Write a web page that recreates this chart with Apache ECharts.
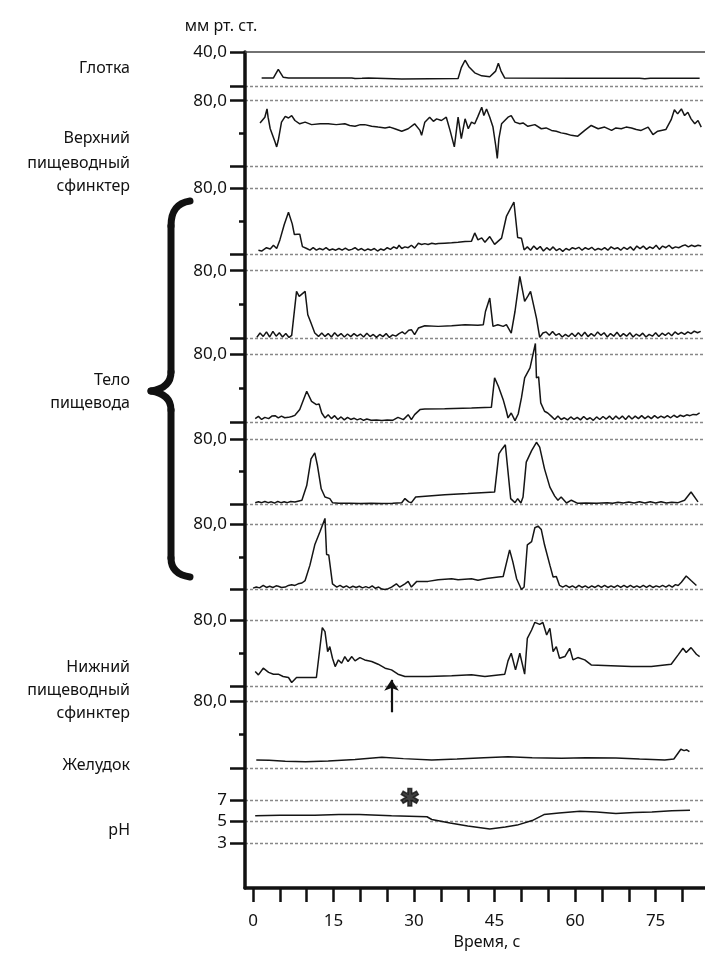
<!DOCTYPE html>
<html>
<head>
<meta charset="utf-8">
<script src="https://cdn.jsdelivr.net/npm/echarts@6/dist/echarts.min.js"></script>
<style>
html, body { margin: 0; padding: 0; background: #fff; }
#chart { width: 705px; height: 955px; }
</style>
</head>
<body>
<div id="chart"></div>
<script>
// оси
var timeTicks = [0, 5, 10, 15, 20, 25, 30, 35, 40, 45, 50, 55, 60, 65, 70, 75, 80];
var timeLabels = [0, 15, 30, 45, 60, 75];
var phTicks = [3, 5, 7];

// каналы: [время, с ; давление, мм рт. ст.]
var pharynx = [[1.6,10.1],[3.8,10.1],[4.7,20],[5.6,11],[6.6,10.1],[18.4,10.1],[19.0,9.5],[20.3,9.7],[21.5,10.1],[27.7,9],[38.2,9.5],[38.8,22],[39.5,30.5],[40.2,23],[41.3,16],[42.6,12.5],[44.1,11.5],[45.2,18],[45.7,27],[46.2,18],[46.9,10],[60,9.8],[72,9.6],[73,9.2],[74,9.6],[83.2,9.6]];

var upperSphincter = [[1.3,53],[2.2,60],[2.6,70],[2.8,60],[3.2,46],[4.1,30],[4.4,24],[4.7,32],[5.3,54],[6.0,61],[6.6,59],[7.2,62],[7.8,56],[8.7,52],[9.7,54],[10.9,51],[12.5,52],[14.0,52],[15.5,51],[17.1,52],[18.0,50],[19.0,49],[20.0,51],[20.8,51],[22.1,49],[23.3,48],[24.6,47],[25.5,48],[26.4,46],[27.7,43],[28.9,46],[30.1,52],[31.1,44],[31.4,38],[32.0,54],[32.9,60],[33.6,55],[34.2,58],[35.1,56],[36.0,60],[36.7,44],[37.5,24],[38.2,60],[38.8,34],[39.5,58],[40.1,46],[40.7,54],[41.3,52],[41.9,61],[42.6,72],[43.0,62],[43.5,70],[44.1,60],[44.7,48],[45.2,26],[45.5,10],[45.8,34],[46.3,52],[46.9,56],[47.5,60],[48.1,62],[48.8,54],[49.7,52],[50.3,53],[51.2,49],[52.5,51],[53.7,46],[54.6,47],[55.6,44],[56.5,43],[57.4,41],[58.3,40],[59.3,38],[60.5,37],[61.8,44],[63.0,50],[64.3,46],[65.5,48],[66.8,44],[67.6,47],[68.6,46],[69.5,48],[70.5,47],[71.4,45],[72.3,44],[73.6,48],[74.5,39],[75.4,43],[76.9,45],[77.9,57],[78.5,69],[79.1,64],[79.8,70],[80.4,62],[81.0,66],[81.6,58],[82.3,52],[82.9,56],[83.5,48]];

var body1 = [[1.0,5],[1.6,4],[2.5,8],[3.2,6.5],[3.8,11],[4.4,7],[5.0,17.5],[5.8,36],[6.6,51],[7.3,37],[7.7,24],[8.3,24.5],[8.7,24.5],[9.2,9.4],[10.0,7],[10.6,5],[11.2,8],[11.8,5],[12.4,7],[13.0,5.5],[13.6,8],[14.2,5],[14.8,6.5],[15.4,5],[16.0,7],[16.6,5],[17.2,7.5],[17.8,5],[18.4,6],[19.0,8],[19.6,5],[20.2,7],[20.8,4.5],[21.4,6.5],[22.0,5],[22.6,7],[23.2,4],[23.8,6.5],[24.4,5],[25.0,8],[25.6,6],[26.2,9],[26.8,7],[27.2,11],[27.7,7],[28.3,9],[28.9,8],[29.5,11],[30.1,7.5],[30.8,13.5],[31.4,12],[32.0,13],[32.6,12],[33.3,13.5],[34.0,12.5],[34.5,13],[35.7,13.5],[37.0,14],[38.2,14.7],[39.5,15.5],[40.7,16],[41.3,26],[41.9,17.5],[42.6,20],[43.2,14.7],[44.1,21.6],[45.0,12],[46.3,19.6],[47.2,46],[48.6,63.6],[49.3,20.4],[50.0,19.6],[50.5,5.3],[51.1,9],[51.7,5],[52.3,10],[52.9,6],[53.5,9.5],[54.1,4],[54.7,8],[55.3,5],[55.9,9],[56.5,4.5],[57.1,7],[57.7,3.5],[58.3,7],[58.9,5],[59.5,8],[60.1,6.5],[60.7,8.5],[61.3,5],[61.9,8],[62.5,6],[63.1,8.5],[63.7,5],[64.3,7],[64.9,5.5],[65.5,8],[66.1,5],[66.7,9],[67.3,6.5],[67.9,8],[68.5,5],[69.1,8.5],[69.7,6],[70.3,9],[70.9,5],[71.5,10],[72.1,7],[72.7,10],[73.3,6],[73.9,9],[74.5,7],[75.1,11],[75.7,6],[76.3,10],[76.9,8],[77.5,11],[78.1,7],[78.7,9],[79.3,8],[79.9,10],[80.5,11.5],[81.1,9],[81.7,11],[82.3,9.5],[82.9,11],[83.5,10]];

var body2 = [[0.7,1.6],[1.3,6.7],[1.9,2.7],[2.5,8],[3.1,2],[3.7,8.6],[4.3,3],[4.9,7],[5.5,2],[6.1,6],[6.7,1.5],[7.2,4],[8.1,55.7],[8.6,49.8],[8.9,51.7],[9.7,55.7],[10.2,28.2],[10.8,18.4],[11.5,6.7],[12.2,2.7],[12.8,6.7],[13.4,2.7],[14.0,6],[14.6,2],[15.2,7],[15.8,3],[16.4,6],[17.0,2],[17.6,5.5],[18.2,2.5],[18.8,6],[19.4,3],[20.0,5.5],[20.6,2],[21.2,6.5],[21.8,2.5],[22.4,5],[23.0,1.5],[23.6,5],[24.2,2.5],[24.8,6],[25.4,1.5],[26.0,4.5],[26.6,3],[27.2,6],[27.8,8],[28.3,5.5],[29.0,10],[29.5,10.6],[30.1,4.7],[30.8,12.5],[32.0,15.3],[34.5,14.5],[37.0,15.3],[39.5,16.5],[41.9,15.7],[42.9,16.5],[43.3,32],[44.1,47.8],[44.7,14.5],[45.6,16.5],[46.6,14.5],[47.2,16.5],[48.1,6.7],[48.8,32],[49.7,73.3],[50.6,44],[51.2,50],[51.7,55.7],[52.8,24.3],[53.4,1.6],[54.0,6.7],[54.6,8],[55.2,4],[55.8,8.5],[56.4,4],[57.0,6],[57.6,2],[58.2,5],[58.8,2.5],[59.4,6.5],[60.0,2.5],[60.6,7],[61.2,3],[61.8,7.5],[62.4,2.5],[63.0,6],[63.6,3],[64.2,8],[64.8,4],[65.4,7],[66.0,2],[66.6,6],[67.2,3],[67.8,7.5],[68.4,2.5],[69.0,6],[69.6,3],[70.2,7],[70.8,2],[71.4,5.5],[72.0,3],[72.6,6.5],[73.2,2],[73.8,5],[74.4,3],[75.0,7],[75.6,2.5],[76.2,6.5],[76.8,4],[77.4,7],[78.0,3.5],[78.6,8],[79.2,5],[79.8,7.5],[80.4,5],[81.0,8],[81.6,6],[82.2,9],[82.8,7],[83.4,8.6]];

var body3 = [[0.4,4],[1.0,6.7],[1.6,3],[2.2,5.5],[2.9,4],[3.5,7],[4.1,7.5],[4.7,4.8],[5.3,7],[5.9,5],[6.6,5.5],[7.2,6.5],[7.8,7.9],[8.7,14.7],[10.0,36.4],[10.9,24.5],[11.8,20.6],[12.3,21.4],[12.8,10.7],[13.4,4.8],[14.0,8.7],[14.6,4],[15.2,7.5],[15.8,3],[16.4,6],[17.0,2.5],[17.6,5.5],[18.2,3],[18.8,4.5],[19.4,2.5],[20.0,4],[20.6,2],[21.2,3.5],[22.0,2],[23.0,2.5],[24.0,1.8],[25.0,2.5],[26.0,2],[27.0,5.5],[28.0,2.8],[28.9,8.7],[29.5,2.8],[30.1,8.7],[31.1,14.7],[32.0,15.4],[35.7,15.8],[40.7,16.6],[44.4,17.4],[45.0,52.3],[45.7,42.4],[46.6,26.5],[47.2,12.7],[47.5,4.8],[48.1,10.7],[48.8,1.6],[49.4,9.5],[50.0,28.5],[50.6,52.3],[51.6,64.2],[52.6,93],[52.8,52.3],[53.2,53.5],[53.6,22.6],[54.3,12.7],[54.9,10.7],[55.6,6.7],[56.2,3],[56.8,7],[57.4,3],[58.0,5],[58.6,2.5],[59.2,6],[59.8,3],[60.4,5.5],[61.0,2.5],[61.6,6.5],[62.2,3],[62.8,5],[63.4,2],[64.0,6],[64.6,3],[65.2,6.5],[65.8,3.5],[66.4,7],[67.0,3],[67.6,7],[68.2,3.5],[68.8,7],[69.4,3],[70.0,7.5],[70.6,3.5],[71.2,7],[71.8,4],[72.4,7.5],[73.0,4],[73.6,7],[74.2,4],[74.8,7.5],[75.4,4.5],[76.0,7],[76.6,5],[77.2,7.5],[77.8,5],[78.4,8],[79.0,5.5],[79.6,8],[80.2,6.5],[80.8,8.5],[81.4,7.5],[82.0,9],[82.6,8.5],[83.2,10.7]];

var body4 = [[0.4,2],[1.0,3],[1.6,2],[2.2,3.5],[2.8,2],[3.4,3],[4.0,1.5],[4.6,3.5],[5.2,2],[5.8,3],[6.4,2],[7.0,3.5],[7.8,2.8],[9.1,4.9],[10.0,23],[10.8,55.6],[11.5,63],[12.0,47.5],[12.7,19],[13.4,9],[14.3,7],[14.8,2],[16,1.2],[18,1.2],[20,1],[22,1.3],[24,1],[26,1.2],[27.7,2],[28.3,7],[29.0,3],[29.5,2],[30.3,9],[35.7,11.8],[40,13.2],[45.0,15],[45.8,61.7],[46.4,67.8],[47.0,73],[48.0,7],[48.8,2],[49.3,7],[49.9,1.6],[50.3,9],[50.9,51.6],[51.9,65.8],[52.8,76],[53.4,70],[54.3,43.4],[55.3,21],[56.2,10],[56.8,5],[57.4,9],[58.4,1.6],[59.3,5],[60.5,1.2],[62,1.5],[64,1.2],[66,2],[67,1.2],[68,2.5],[69,1.5],[70,2.8],[71,1.5],[72,3],[73,1.5],[74,3],[75,1.5],[76,3],[77,1.5],[78,2.5],[79.2,2],[80.4,5],[81.6,15],[82.9,3]];

var body5 = [[0,1.7],[0.6,3],[1.2,2],[1.9,5],[2.5,2.5],[3.1,4],[3.7,2.5],[4.3,4.5],[4.7,4],[5.3,2.5],[6.0,3],[6.6,5],[7.2,5.8],[7.8,5],[8.4,7],[9.1,8],[9.7,11],[10.6,30],[11.5,55],[12.5,71.7],[13.4,87.5],[13.7,43],[14.1,42.5],[14.8,7],[15.6,3],[16.2,5],[16.8,2.5],[17.4,4.5],[18.0,2],[18.6,4],[19.2,2.5],[19.8,4],[20.4,2],[21.0,3.5],[21.6,2],[22.2,4.5],[22.8,1.5],[23.4,3],[24.0,0.5],[24.6,0],[25.2,1],[25.8,3],[26.1,5],[26.7,7],[27.3,3],[28.3,7],[28.9,10],[29.5,3],[30.5,10],[32.6,10],[34.5,12],[37.0,13.3],[38.2,12],[40.7,13.3],[41.9,11.5],[43.5,13.5],[45.7,15.4],[46.6,16],[47.8,48.8],[48.4,34],[49.1,13.3],[50.0,0],[50.5,3],[51.1,55],[51.9,59],[52.5,76],[53.1,78],[53.7,73.8],[54.3,55],[55.3,30],[55.9,15.4],[56.5,16],[57.1,5],[57.7,3],[58.3,5],[58.9,2.5],[59.5,4.5],[60.1,2],[60.7,5],[61.3,2.5],[61.9,4.5],[62.5,2],[63.1,4.5],[63.7,2.5],[64.3,5],[64.9,2.5],[65.5,5],[66.1,2.5],[66.7,4.5],[67.3,2.5],[67.9,5],[68.5,2.5],[69.1,5],[69.7,2.5],[70.3,5],[70.9,2.5],[71.5,4.5],[72.1,2.5],[72.7,5],[73.3,2.5],[73.9,5],[74.5,2.5],[75.1,4.5],[75.7,3],[76.3,5],[76.9,3],[77.5,5.5],[78.1,3],[78.7,6],[79.2,5],[79.8,9],[80.7,16.7],[81.6,11],[82.6,5]];

var lowerSphincter = [[0.4,18],[1.0,14],[1.9,22],[2.9,17],[3.8,14.8],[4.7,14.8],[5.6,12],[6.6,10.8],[7.2,4.8],[8.1,10.8],[9.7,10.8],[11.8,10.8],[12.9,70.8],[13.4,66],[13.9,42],[14.3,48],[14.8,34],[15.3,24],[15.9,32],[16.5,28],[17.1,36],[17.7,30],[18.4,36],[19.0,30.8],[19.9,34.8],[20.8,32],[22.1,30],[23.3,26.8],[24.6,22],[25.8,20],[27.0,14.8],[28.3,12],[32.6,12],[37.0,12.8],[40.7,14],[43.2,12],[46.9,14.8],[47.5,30.8],[48.1,40],[48.9,20],[49.7,40],[50.6,14.8],[51.1,58],[51.9,68],[52.5,77.2],[53.4,74.8],[54.0,77],[54.7,62],[55.3,70],[55.9,42],[56.5,48],[57.1,34],[58.1,36],[59.0,46],[59.6,32],[60.5,34.8],[61.8,32],[63.0,26],[66.7,25],[70.5,24],[74.2,24],[77.9,26.8],[79.2,38],[80.1,46],[80.7,41],[81.6,46.8],[82.6,38.8],[83.2,36]];

var stomach = [[0.6,9.9],[3,9.5],[6,8.5],[9.8,7.8],[14,8.8],[19,10.5],[24,13],[28,11.5],[33.3,9.9],[38,11],[43,12.5],[47.5,13.8],[52,12.5],[57.5,11.9],[62,12.5],[67.6,12.3],[72,11],[76.7,9.9],[78.4,11],[79.7,22.6],[80.3,21],[80.8,22],[81.3,19.7]];

var ph = [[0.4,5.55],[5,5.6],[11.5,5.6],[16,5.65],[19.8,5.65],[25.8,5.55],[32.4,5.45],[33.3,5.2],[36.7,4.88],[40,4.6],[44.1,4.33],[47,4.5],[49.2,4.68],[52,5.1],[54.2,5.65],[57,5.8],[60.9,5.95],[64,5.9],[67.6,5.75],[71,5.85],[74.3,5.9],[78,6],[81.4,6.05]];

// отметки
var arrowMark = [[25.8, -31], [25.8, 8]];
var asteriskMark = [[29.2, 7]];

var sideLabels = [['Глотка'], ['Верхний', 'пищеводный', 'сфинктер'], ['Тело', 'пищевода'], ['Нижний', 'пищеводный', 'сфинктер'], ['Желудок'], ['pH']];
var sideLabelY = [[68], [138, 163, 186], [380, 403], [667, 690, 713], [765], [830]];

var FONT = "'Noto Sans', sans-serif";
var INK = '#111';
var X_MIN = -1.5, X_MAX = 84.2;

// min, max, interval, подпись верхнего деления, позиция
var channels = [
  { data: pharynx, min: 0, max: 40, interval: 40, top: 52, height: 34.7, topLabel: '40,0', minor: false },
  { data: upperSphincter, min: 0, max: 80, interval: 80, top: 100.7, height: 66, topLabel: '80,0', minor: true },
  { data: body1, min: 0, max: 80, interval: 80, top: 188.5, height: 65.8, topLabel: '80,0', minor: true },
  { data: body2, min: 0, max: 80, interval: 80, top: 270.7, height: 68, topLabel: '80,0', minor: true },
  { data: body3, min: 0, max: 80, interval: 80, top: 354.5, height: 67.5, topLabel: '80,0', minor: true },
  { data: body4, min: 0, max: 80, interval: 80, top: 439, height: 65.3, topLabel: '80,0', minor: true },
  { data: body5, min: 0, max: 80, interval: 80, top: 524.5, height: 65, topLabel: '80,0', minor: true },
  { data: lowerSphincter, min: 0, max: 80, interval: 80, top: 620, height: 66.5, topLabel: '80,0', minor: true },
  { data: stomach, min: 0, max: 80, interval: 80, top: 701, height: 67.3, topLabel: '80,0', minor: true },
  { data: ph, min: 3, max: 7, interval: 2, top: 800, height: 43.3, topLabel: null, minor: false }
];

var grids = [{ left: 245, right: 0, top: 52, height: 836 }];
var xAxes = [{
  gridIndex: 0, type: 'value', min: X_MIN, max: X_MAX,
  axisLine: { show: true, onZero: false, lineStyle: { color: INK, width: 3.5 } },
  axisTick: { show: true, customValues: timeTicks, length: 14, lineStyle: { color: INK, width: 2.5 } },
  axisLabel: { show: true, customValues: timeLabels, margin: 25, fontSize: 17, color: INK },
  splitLine: { show: false }
}];
var yAxes = [{
  gridIndex: 0, type: 'value', min: 0, max: 1,
  axisLine: { show: true, onZero: false, lineStyle: { color: INK, width: 3.5 } },
  axisTick: { show: false }, axisLabel: { show: false }, splitLine: { show: false }
}];
var series = [];

channels.forEach(function (c, i) {
  var gi = i + 1;
  grids.push({ left: 245, right: 0, top: c.top, height: c.height });
  xAxes.push({
    gridIndex: gi, type: 'value', min: X_MIN, max: X_MAX, position: 'top', show: i === 0,
    axisLine: { show: true, onZero: false, lineStyle: { color: '#444', width: 1.6 } },
    axisTick: { show: false }, axisLabel: { show: false }, splitLine: { show: false }
  });
  yAxes.push({
    gridIndex: gi, type: 'value', min: c.min, max: c.max, interval: c.interval,
    axisLine: { show: false, onZero: false },
    axisTick: { show: true, length: 15, lineStyle: { color: INK, width: 2.5 } },
    minorTick: { show: c.minor, splitNumber: 2, length: 6, lineStyle: { color: INK, width: 2.5 } },
    axisLabel: {
      margin: 18, fontSize: 17, color: INK,
      formatter: function (v) {
        if (c.topLabel === null) return phTicks.indexOf(v) >= 0 ? String(v) : '';
        return v === c.max ? c.topLabel : '';
      }
    },
    splitLine: {
      show: true,
      lineStyle: { type: [3, 2], width: 1.3, color: i === 0 ? ['#888', 'rgba(0,0,0,0)'] : '#888' }
    }
  });
  series.push({
    type: 'line', xAxisIndex: gi, yAxisIndex: gi, data: c.data, symbol: 'none',
    clip: false, silent: true,
    lineStyle: { color: '#151515', width: 1.5 }
  });
});

// стрелка в канале нижнего сфинктера
series.push({
  type: 'lines', coordinateSystem: 'cartesian2d', xAxisIndex: 8, yAxisIndex: 8,
  clip: false, silent: true,
  data: [{ coords: arrowMark }],
  symbol: ['none', 'arrow'], symbolSize: [0, 11],
  lineStyle: { color: INK, width: 2.2, opacity: 1 }
});
// звёздочка в канале pH
series.push({
  type: 'scatter', xAxisIndex: 10, yAxisIndex: 10, data: asteriskMark,
  symbolSize: 1, itemStyle: { color: 'rgba(0,0,0,0)' }, silent: true, clip: false,
  label: {
    show: true, position: 'inside', formatter: '✱', fontSize: 24, color: INK,
    textBorderColor: INK, textBorderWidth: 1.5, fontFamily: 'DejaVu Sans'
  }
});

// фигурная скобка «Тело пищевода»
var braceStyle = { stroke: INK, lineWidth: 7, fill: null, lineCap: 'round' };
var graphics = [
  { type: 'text', style: { text: 'мм рт. ст.', x: 221, y: 26, textAlign: 'center', textVerticalAlign: 'middle', fontSize: 16, fontFamily: FONT, fill: INK } },
  { type: 'text', style: { text: 'Время, с', x: 487, y: 942, textAlign: 'center', textVerticalAlign: 'middle', fontSize: 16, fontFamily: FONT, fill: INK } },
  { type: 'bezierCurve', shape: { x1: 190, y1: 201, cpx1: 177, cpy1: 203, cpx2: 171, cpy2: 211, x2: 171, y2: 226 }, style: braceStyle },
  { type: 'line', shape: { x1: 171, y1: 226, x2: 171, y2: 372 }, style: braceStyle },
  { type: 'bezierCurve', shape: { x1: 171, y1: 372, cpx1: 171, cpy1: 383, cpx2: 164, cpy2: 389, x2: 151, y2: 391 }, style: braceStyle },
  { type: 'bezierCurve', shape: { x1: 151, y1: 391, cpx1: 164, cpy1: 393, cpx2: 171, cpy2: 399, x2: 171, y2: 410 }, style: braceStyle },
  { type: 'line', shape: { x1: 171, y1: 410, x2: 171, y2: 558 }, style: braceStyle },
  { type: 'bezierCurve', shape: { x1: 171, y1: 558, cpx1: 171, cpy1: 568, cpx2: 177, cpy2: 575, x2: 190, y2: 577 }, style: braceStyle }
];
sideLabels.forEach(function (lines, k) {
  lines.forEach(function (t, j) {
    graphics.push({ type: 'text', style: { text: t, x: 130, y: sideLabelY[k][j], textAlign: 'right', textVerticalAlign: 'middle', fontSize: 16, fontFamily: FONT, fill: INK } });
  });
});

var chart = echarts.init(document.getElementById('chart'));
chart.setOption({
  animation: false,
  backgroundColor: '#fff',
  textStyle: { fontFamily: FONT },
  grid: grids,
  xAxis: xAxes,
  yAxis: yAxes,
  series: series,
  graphic: graphics
});
</script>
</body>
</html>
